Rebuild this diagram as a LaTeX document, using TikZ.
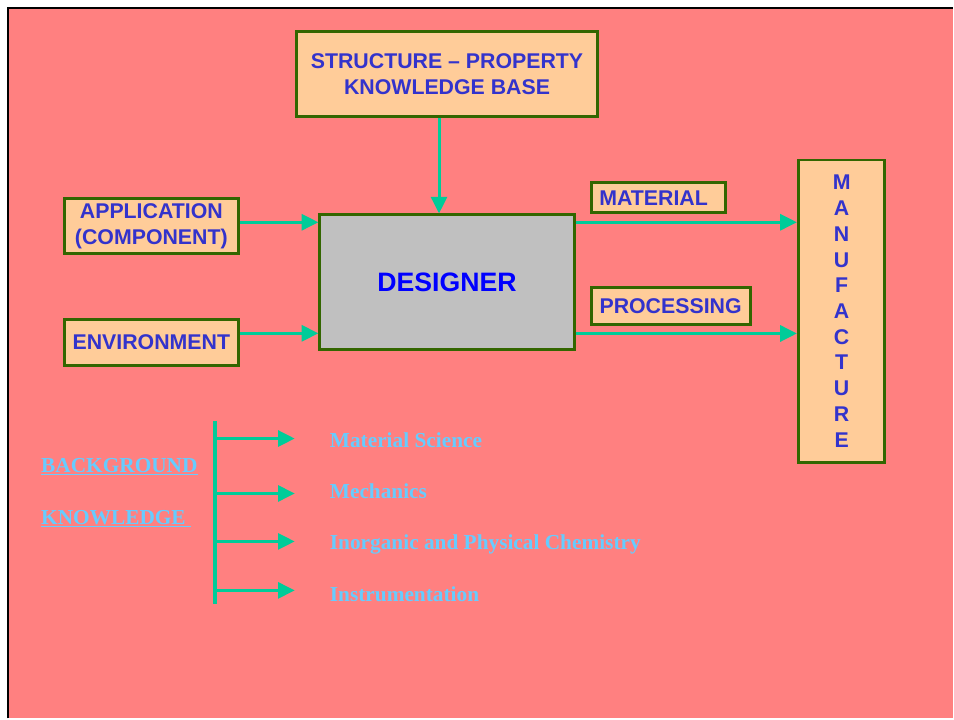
\documentclass[tikz,border=0pt]{standalone}
\usepackage{fontspec}
\setmainfont{Liberation Serif}
\newfontfamily\arial{Liberation Sans}
\usetikzlibrary{arrows.meta,positioning}
\definecolor{fondo}{RGB}{255,128,128}
\definecolor{caja}{RGB}{255,204,153}
\definecolor{borde}{RGB}{51,102,0}
\definecolor{azul}{RGB}{51,51,204}
\definecolor{verde}{RGB}{0,204,153}
\definecolor{celeste}{RGB}{102,204,255}
\definecolor{gris}{RGB}{192,192,192}
\pgfdeclarelayer{background}
\pgfsetlayers{background,main}
\tikzstyle{bloque}=[draw=borde, line width=2.2pt, fill=caja, text=azul,
  font=\arial\bfseries\fontsize{16}{19.3}\selectfont, align=center,
  inner sep=0pt]
\tikzstyle{etiqueta}=[bloque, align=left, inner xsep=6pt]
\tikzstyle{tema}=[anchor=base west, text=celeste, inner sep=0pt,
  font=\bfseries\fontsize{16}{19}\selectfont]
\tikzstyle{linea}=[draw=verde, line width=2.2pt,
  -{Triangle[length=12.5pt,width=12pt]}]
\newcommand{\bloque}[4]{node (#1) [bloque, minimum width=#2, minimum height=#3] {#4}}

\begin{document}
\begin{tikzpicture}[x=0.75pt,y=-0.75pt]

% Slide background
\begin{pgfonlayer}{background}
  \fill[white] (0,0) rectangle (954,719);
  \fill[fondo] (8,8) rectangle (954,719);
  \draw[black, line width=1.5pt] (8,719) -- (8,8) -- (954,8);
\end{pgfonlayer}

% Draw diagram elements
\path (447.5,74)   \bloque{kb}{226.5pt}{64pt}{STRUCTURE – PROPERTY\\KNOWLEDGE BASE};
\path (447.5,282.5) node (dis) [bloque, fill=gris, text=blue,
  minimum width=191pt, minimum height=101pt,
  font=\arial\bfseries\fontsize{20}{24}\selectfont] {DESIGNER};
\path (151.5,226.5) \bloque{apl}{131pt}{41pt}{APPLICATION\\(COMPONENT)};
\path (151.5,343)   \bloque{amb}{131pt}{34.5pt}{ENVIRONMENT};
\path (842.5,311.5) \bloque{man}{65pt}{227pt}{M\\A\\N\\U\\F\\A\\C\\T\\U\\R\\E};
\path (659,198)   node (mat) [etiqueta, text width=88.5pt, minimum height=22.5pt] {MATERIAL};
\path (671.5,306.5) node (pro) [etiqueta, text width=107pt, minimum height=28pt] {PROCESSING};

% Draw arrows between elements
\path [linea] ([xshift=-6pt]kb.south) -- ([xshift=-6pt]dis.north);
\path [linea] ([yshift=3pt]apl.east) -- ([yshift=3pt]apl.east -| dis.west);
\path [linea] ([yshift=7pt]amb.east) -- ([yshift=7pt]amb.east -| dis.west);
\path [linea] ([yshift=45pt]dis.east) -- ([yshift=45pt]dis.east -| man.west);
\path [linea] ([yshift=-38.5pt]dis.east) -- ([yshift=-38.5pt]dis.east -| man.west);

% Background knowledge
\node (bg) [tema] at (41,473) {\underline{BACKGROUND}};
\node (kn) [tema] at (41,525) {\underline{KNOWLEDGE\ }};
\coordinate (tope) at (215,421);
\coordinate (base) at (215,605);
\draw[verde, line width=3pt] (tope) -- (base);
\foreach \y [count=\i] in {439,494,542,591} {
  \coordinate (r\i) at (215,\y);
  \coordinate (f\i) at (295,\y);
  \path [linea] (r\i) -- (f\i);
}
\node (t1) [tema] at (330,448) {Material Science};
\node (t2) [tema] at (330,499) {Mechanics};
\node (t3) [tema] at (330,550) {Inorganic and Physical Chemistry};
\node (t4) [tema] at (330,602) {Instrumentation};

\end{tikzpicture}
\end{document}
